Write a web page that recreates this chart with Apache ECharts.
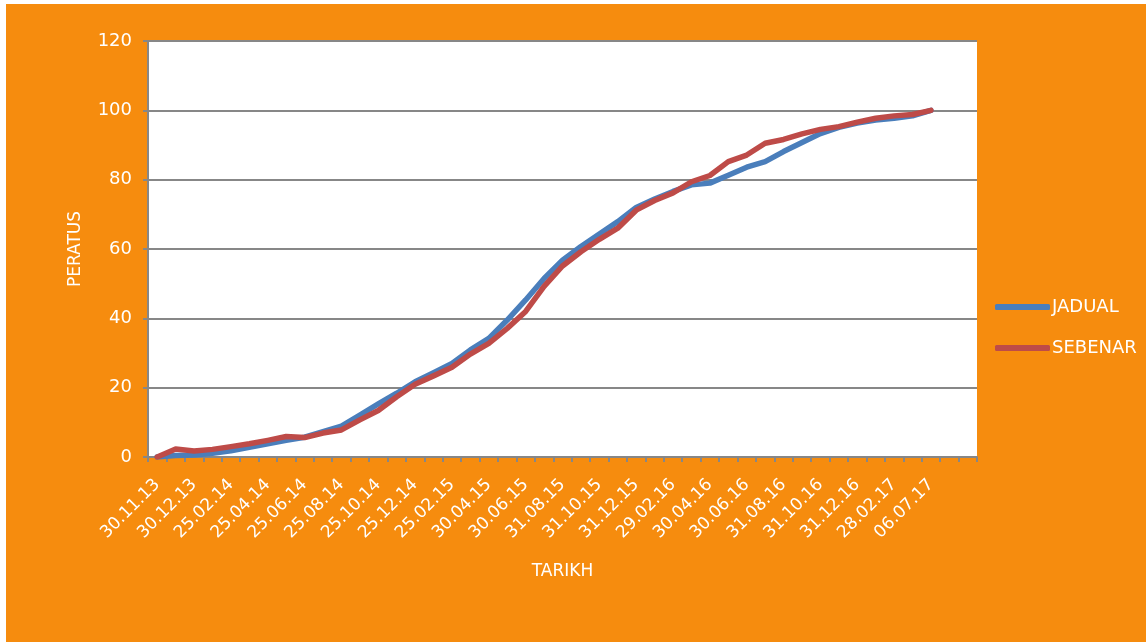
<!DOCTYPE html>
<html>
<head>
<meta charset="utf-8">
<script src="https://cdn.jsdelivr.net/npm/echarts@6/dist/echarts.min.js"></script>
<style>
html,body{margin:0;padding:0;background:#fff;}
#c{width:1146px;height:642px;}
</style>
</head>
<body>
<div id="c"></div>
<script>
// categories (45 slots; every other one labelled)
const categories = [
  '30.11.13','15.12.13','30.12.13','25.01.14','25.02.14','25.03.14','25.04.14','25.05.14',
  '25.06.14','25.07.14','25.08.14','25.09.14','25.10.14','25.11.14','25.12.14','25.01.15',
  '25.02.15','30.03.15','30.04.15','31.05.15','30.06.15','31.07.15','31.08.15','30.09.15',
  '31.10.15','30.11.15','31.12.15','31.01.16','29.02.16','31.03.16','30.04.16','31.05.16',
  '30.06.16','31.07.16','31.08.16','30.09.16','31.10.16','30.11.16','31.12.16','31.01.17',
  '28.02.17','31.03.17','06.07.17','',''
];
const jadual = [
  0, 0.4, 0.6, 1.1, 1.8, 2.8, 3.8, 4.8, 5.7, 7.3, 8.9, 12.1, 15.3, 18.4, 21.7, 24.3,
  27.0, 30.9, 34.2, 39.5, 45.3, 51.5, 56.8, 60.7, 64.3, 67.9, 72.0, 74.4, 76.6, 78.5,
  79.0, 81.3, 83.6, 85.2, 88.1, 90.7, 93.3, 95.1, 96.3, 97.2, 97.7, 98.4, 100
];
const sebenar = [
  0, 2.3, 1.7, 2.2, 3.0, 3.8, 4.8, 5.9, 5.6, 6.9, 7.8, 10.7, 13.4, 17.4, 21.0, 23.4,
  25.9, 29.7, 32.8, 37.1, 42.0, 49.2, 55.1, 59.2, 62.8, 66.0, 71.2, 74.0, 76.2, 79.4,
  81.2, 85.2, 87.1, 90.5, 91.6, 93.2, 94.5, 95.3, 96.6, 97.7, 98.4, 98.8, 100
];
const yTicks = [0, 20, 40, 60, 80, 100, 120];

const ORANGE = '#F68C0E';
const GRAY = '#878787';
const FONT = 'DejaVu Sans';

const chart = echarts.init(document.getElementById('c'), null, {renderer: 'canvas'});
chart.setOption({
  backgroundColor: '#fff',
  animation: false,
  graphic: [{
    type: 'rect', z: -10, silent: true,
    shape: {x: 6, y: 4, width: 1146, height: 642},
    style: {fill: ORANGE}
  }],
  grid: {
    left: 148, top: 41, width: 829, height: 416,
    show: true, backgroundColor: '#fff', borderWidth: 0
  },
  legend: {
    orient: 'vertical', left: 990, top: 293,
    itemWidth: 55, itemHeight: 6, itemGap: 23,
    icon: 'roundRect',
    textStyle: {color: '#fff', fontFamily: FONT, fontSize: 18, padding: [0, 0, 0, -3]},
    data: ['JADUAL', 'SEBENAR']
  },
  xAxis: {
    type: 'category', data: categories, boundaryGap: true,
    name: 'TARIKH', nameLocation: 'middle', nameGap: 106,
    nameTextStyle: {color: '#fff', fontFamily: FONT, fontSize: 17},
    axisLine: {lineStyle: {color: GRAY, width: 2}},
    axisTick: {show: true, interval: 0, length: 5, lineStyle: {color: GRAY, width: 2}},
    axisLabel: {
      interval: 1, rotate: 45, color: '#fff', fontFamily: FONT, fontSize: 17, margin: 25
    },
    splitLine: {show: false}
  },
  yAxis: {
    type: 'value', min: yTicks[0], max: yTicks[yTicks.length - 1], interval: 20,
    name: 'PERATUS', nameLocation: 'middle', nameGap: 64, nameRotate: 90,
    nameTextStyle: {color: '#fff', fontFamily: FONT, fontSize: 17},
    axisLine: {show: true, lineStyle: {color: GRAY, width: 2}},
    axisTick: {show: true, length: 5, lineStyle: {color: GRAY, width: 2}},
    axisLabel: {color: '#fff', fontFamily: FONT, fontSize: 18, margin: 16},
    splitLine: {show: true, lineStyle: {color: GRAY, width: 2}}
  },
  series: [
    {
      name: 'JADUAL', type: 'line', data: jadual, showSymbol: false, symbol: 'none',
      lineStyle: {color: '#4A7EBB', width: 5.5, cap: 'round', join: 'round'},
      itemStyle: {color: '#4A7EBB'}
    },
    {
      name: 'SEBENAR', type: 'line', data: sebenar, showSymbol: false, symbol: 'none',
      lineStyle: {color: '#BE4B48', width: 5.5, cap: 'round', join: 'round'},
      itemStyle: {color: '#BE4B48'}
    }
  ]
});
</script>
</body>
</html>
